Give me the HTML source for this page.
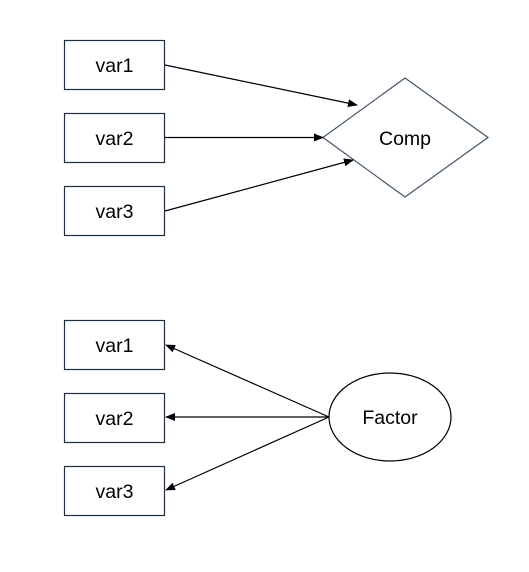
<!DOCTYPE html>
<html><head><style>body{margin:0;background:#fff}</style></head><body>
<svg width="529" height="567" xmlns="http://www.w3.org/2000/svg" font-family="Liberation Sans, sans-serif" font-size="19.5">
<defs><marker id="a" markerWidth="10" markerHeight="8" refX="9" refY="4" orient="auto" markerUnits="userSpaceOnUse"><path d="M0,0 L10,4 L0,8 z" fill="#000"/></marker></defs>
<g fill="#fff" stroke="#1f2f3f" stroke-width="1.2">
<rect x="64.5" y="40.5" width="100" height="49"/>
<rect x="64.5" y="113.5" width="100" height="49"/>
<rect x="64.5" y="186.5" width="100" height="49"/>
<rect x="64.5" y="320.5" width="100" height="49"/>
<rect x="64.5" y="393.5" width="100" height="49"/>
<rect x="64.5" y="466.5" width="100" height="49"/>
</g>
<polygon points="405,78 488,137.5 405,197 323,137.5" fill="#fff" stroke="#44546a" stroke-width="1.2"/>
<ellipse cx="390" cy="417" rx="61" ry="44" fill="#fff" stroke="#000" stroke-width="1.2"/>
<g stroke="#000" stroke-width="1.2" marker-end="url(#a)">
<line x1="165" y1="65" x2="357" y2="105"/>
<line x1="165" y1="137.5" x2="323" y2="137.5"/>
<line x1="165" y1="211" x2="353" y2="160"/>
<line x1="329" y1="417" x2="166" y2="345"/>
<line x1="329" y1="417" x2="166" y2="417"/>
<line x1="329" y1="417" x2="166" y2="490"/>
</g>
<g text-anchor="middle" fill="#000">
<text x="114.5" y="72">var1</text>
<text x="114.5" y="145">var2</text>
<text x="114.5" y="218">var3</text>
<text x="114.5" y="352">var1</text>
<text x="114.5" y="425">var2</text>
<text x="114.5" y="498">var3</text>
<text x="405" y="145">Comp</text>
<text x="390" y="424">Factor</text>
</g>
</svg>
</body></html>
